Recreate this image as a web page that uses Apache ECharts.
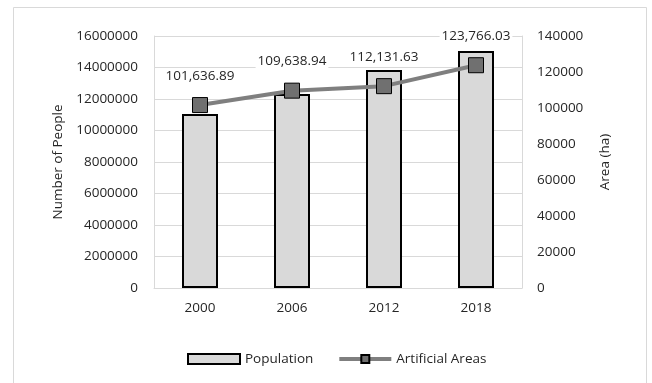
<!DOCTYPE html>
<html>
<head>
<meta charset="utf-8">
<script src="https://cdn.jsdelivr.net/npm/echarts@6/dist/echarts.min.js"></script>
<style>
  html, body { margin: 0; padding: 0; background: #fff; }
  #chart { width: 652px; height: 383px; }
</style>
</head>
<body>
<div id="chart"></div>
<script>
// data
let years = ["2000", "2006", "2012", "2018"];
let population = [11050000, 12320000, 13840000, 15050000];
let artificialAreas = [101636.89, 109638.94, 112131.63, 123766.03];

let font = "'Open Sans', 'Noto Sans', sans-serif";
let txt = "#262626";

function fmt(v) {
    let parts = v.toFixed(2).split(".");
    parts[0] = parts[0].replace(/\B(?=(\d{3})+(?!\d))/g, ",");
    return parts.join(".");
}

let myChart = echarts.init(document.getElementById("chart"));
let option = {
    backgroundColor: "#fff",
    animation: false,
    textStyle: { fontFamily: font, color: txt },
    graphic: [{
        type: "rect",
        shape: { x: 13.5, y: 7.5, width: 633, height: 380 },
        style: { fill: "none", stroke: "#d9d9d9", lineWidth: 1 },
        z: -1
    }],
    grid: { left: 154, right: 130, top: 36, bottom: 95 },
    legend: {
        left: 182,
        top: 347,
        itemWidth: 52,
        itemHeight: 10,
        itemGap: 24,
        textStyle: { fontFamily: font, fontSize: 13.5, color: txt },
        data: [
            { name: "Population", icon: "rect" },
            { name: "Artificial Areas", lineStyle: { width: 4, color: "#7f7f7f" } }
        ]
    },
    xAxis: {
        type: "category",
        data: years,
        axisLine: { lineStyle: { color: "#d9d9d9", width: 1 } },
        axisTick: { show: false },
        axisLabel: { color: txt, fontSize: 13.5, fontFamily: font, margin: 13 }
    },
    yAxis: [{
        type: "value",
        min: 0,
        max: 16000000,
        interval: 2000000,
        name: "Number of People",
        nameLocation: "middle",
        nameGap: 88,
        nameTextStyle: { color: txt, fontSize: 13.5, fontFamily: font },
        axisLine: { show: true, lineStyle: { color: "#d9d9d9" } },
        axisLabel: { color: txt, fontSize: 13.5, fontFamily: font, margin: 16,
            formatter: function (v) { return String(v); } },
        splitLine: { lineStyle: { color: "#d9d9d9", width: 1 } }
    }, {
        type: "value",
        min: 0,
        max: 140000,
        interval: 20000,
        name: "Area (ha)",
        nameLocation: "middle",
        nameGap: 76,
        nameTextStyle: { color: txt, fontSize: 13.5, fontFamily: font },
        axisLine: { show: true, lineStyle: { color: "#d9d9d9" } },
        axisLabel: { color: txt, fontSize: 13.5, fontFamily: font, margin: 15,
            formatter: function (v) { return String(v); } },
        splitLine: { show: false }
    }],
    series: [{
        name: "Population",
        type: "bar",
        data: population,
        barWidth: 36,
        itemStyle: { color: "#d9d9d9", borderColor: "#000", borderWidth: 2 }
    }, {
        name: "Artificial Areas",
        type: "line",
        yAxisIndex: 1,
        data: artificialAreas,
        symbol: "rect",
        symbolSize: 15,
        lineStyle: { color: "#7f7f7f", width: 4 },
        itemStyle: { color: "#707070", borderColor: "#000", borderWidth: 1 },
        label: {
            show: true,
            position: "top",
            distance: 14,
            color: txt,
            fontSize: 13.5,
            fontFamily: font,
            backgroundColor: "#fff",
            padding: [0, 2],
            formatter: function (p) { return fmt(p.value); }
        },
        z: 3
    }]
};
myChart.setOption(option);
</script>
</body>
</html>
